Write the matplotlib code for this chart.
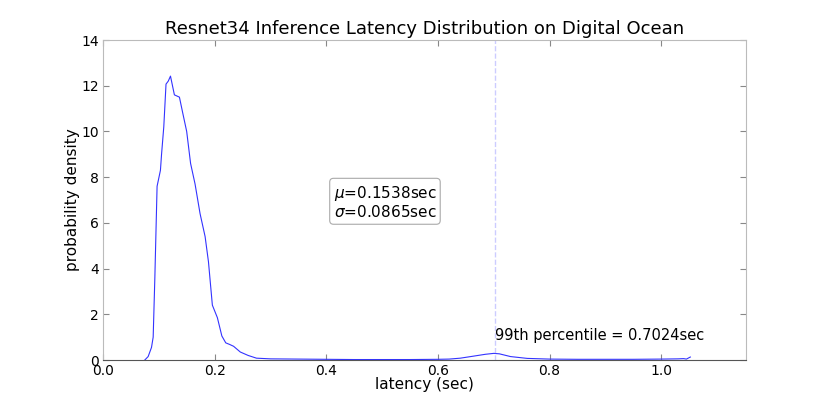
import matplotlib
matplotlib.use("Agg")
import matplotlib.pyplot as plt

latency = [0.075, 0.081, 0.087, 0.090, 0.093, 0.097, 0.103, 0.105, 0.109, 0.113,
           0.117, 0.121, 0.128, 0.137, 0.143, 0.150, 0.157, 0.165, 0.174, 0.183,
           0.189, 0.196, 0.205, 0.213, 0.220, 0.227, 0.234, 0.246, 0.260, 0.275,
           0.30, 0.35, 0.40, 0.45, 0.50, 0.55, 0.60, 0.62, 0.64, 0.664,
           0.685, 0.70, 0.71, 0.73, 0.76, 0.80, 0.85, 0.90, 0.95, 1.00,
           1.03, 1.04, 1.045, 1.052]
density = [0.0, 0.15, 0.55, 1.0, 3.6, 7.6, 8.3, 9.0, 10.2, 12.07,
           12.2, 12.42, 11.6, 11.5, 10.8, 10.0, 8.6, 7.7, 6.4, 5.4,
           4.3, 2.4, 1.85, 1.05, 0.75, 0.68, 0.6, 0.35, 0.2, 0.08,
           0.05, 0.04, 0.03, 0.02, 0.02, 0.02, 0.03, 0.04, 0.08, 0.17,
           0.25, 0.29, 0.27, 0.15, 0.07, 0.04, 0.03, 0.03, 0.03, 0.04,
           0.05, 0.06, 0.04, 0.13]
mu = 0.1538
sigma = 0.0865
p99 = 0.7024
title = "Resnet34 Inference Latency Distribution on Digital Ocean"
xticks = [0.0, 0.2, 0.4, 0.6, 0.8, 1.0]
yticks = [0, 2, 4, 6, 8, 10, 12, 14]

fig = plt.figure(figsize=(8.3, 4.0), dpi=100)
ax = fig.add_axes([0.124, 0.1, 0.775, 0.8])
ax.plot(latency, density, color="#3333ff", lw=0.8)
ax.axvline(p99, color="#aaaaff", ls="--", lw=1.0, alpha=0.6)
ax.set_xlim(0, 1.152)
ax.set_ylim(0, 14)
ax.set_xticks(xticks)
ax.set_xticklabels([f"{t:.1f}" for t in xticks])
ax.set_yticks(yticks)
ax.tick_params(direction="in", top=True, right=True, labelsize=10, length=4,
               color="#888888", pad=3)
for s in ["left", "top", "right"]:
    ax.spines[s].set_color("#bbbbbb")
ax.spines["bottom"].set_color("#555555")
ax.set_title(title, fontsize=13, pad=4)
ax.set_xlabel("latency (sec)", fontsize=11, labelpad=-1)
ax.set_ylabel("probability density", fontsize=11, labelpad=1)
ax.text(0.413, 6.9, f"$\\mu$={mu:.4f}sec\n$\\sigma$={sigma:.4f}sec", fontsize=11,
        ha="left", va="center", linespacing=1.1,
        bbox=dict(boxstyle="round,pad=0.25", fc="white", ec="#aaaaaa", lw=0.8))
ax.text(p99, 0.75, f"99th percentile = {p99:.4f}sec", fontsize=10.5,
        ha="left", va="bottom")
fig.savefig("out.png", dpi=100)
